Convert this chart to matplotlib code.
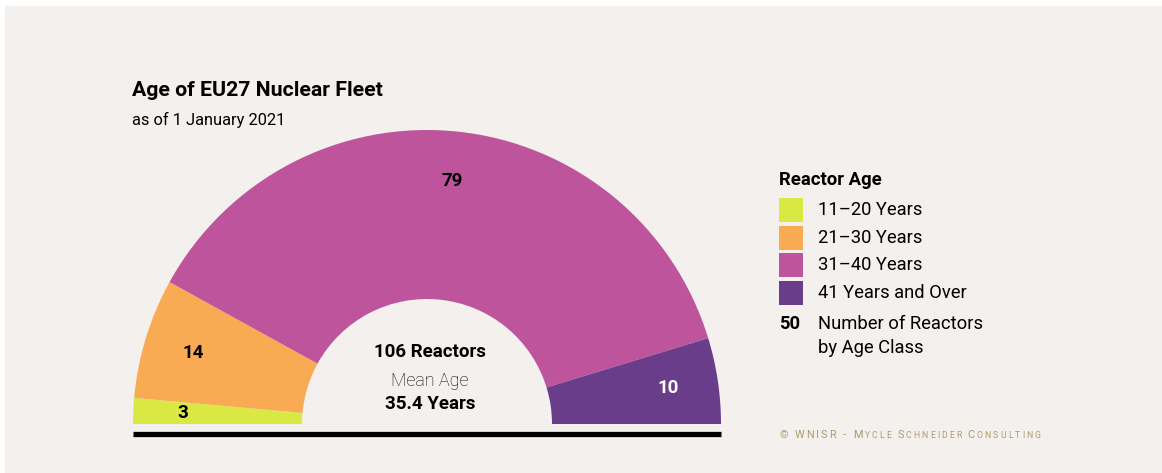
import matplotlib.pyplot as plt
from matplotlib.patches import Rectangle
import numpy as np

plt.rcParams['font.family'] = ['Roboto', 'DejaVu Sans']

# data
age_classes = ['11\u201320 Years', '21\u201330 Years', '31\u201340 Years', '41 Years and Over']
reactors = [3, 14, 79, 10]
colors = ['#d9e843', '#f8ab52', '#be559c', '#6a3d8b']
label_colors = ['black', 'black', 'black', 'white']
mean_age = 35.4

W, H = 1162, 473
BG = '#f3f0ed'

fig = plt.figure(figsize=(W / 100, H / 100), dpi=100)
fig.patch.set_facecolor('white')
fig.add_artist(Rectangle((5 / W, 0), 1, 1 - 6 / H, transform=fig.transFigure,
                         facecolor=BG, edgecolor='none', zorder=-10))


def fx(x):
    return x / W


def fy(y):
    return 1 - y / H


# half donut: center at (427, 424) px, radius 294 px
cx, cy, r = 427, 424, 294
ax = fig.add_axes([fx(cx - r), fy(cy), 2 * r / W, r / H])
ax.set_facecolor('none')
total = sum(reactors)
wedges, _ = ax.pie(reactors + [total], colors=colors + ['none'], startangle=180,
                   counterclock=False, radius=1,
                   wedgeprops=dict(width=1 - 125 / 294, linewidth=0))
wedges[-1].set_visible(False)
ax.set_xlim(-1, 1)
ax.set_ylim(0, 1)
ax.set_aspect('auto')
ax.axis('off')

for w, v, c in zip(wedges[:-1], reactors, label_colors):
    ang = np.deg2rad((w.theta1 + w.theta2) / 2)
    ax.text(0.83 * np.cos(ang), 0.83 * np.sin(ang), str(v), ha='center', va='center',
            fontsize=13.5, fontweight='bold', color=c)

# baseline bar
ax.plot([-1, 1], [-0.034, -0.034], color='black', lw=3.8, solid_capstyle='butt', clip_on=False)

# centre text
ax.text(0.01, 0.245, f'{total} Reactors', ha='center', va='center', fontsize=13.5, fontweight='bold')
ax.text(0.01, 0.147, 'Mean Age', ha='center', va='center', fontsize=13, fontweight='light', color='black')
ax.text(0.01, 0.068, f'{mean_age} Years', ha='center', va='center', fontsize=13.5, fontweight='bold')

# titles
fig.text(fx(132), fy(90), 'Age of EU27 Nuclear Fleet', fontsize=15.3, fontweight='bold', va='center')
fig.text(fx(132), fy(120), 'as of 1 January 2021', fontsize=11.8, va='center')

# legend
fig.text(fx(779), fy(180), 'Reactor Age', fontsize=13.3, fontweight='bold', va='center')
for i, (lab, col) in enumerate(zip(age_classes, colors)):
    yc = 210 + i * 27.7
    fig.add_artist(Rectangle((fx(779), fy(yc + 12)), 24 / W, 24 / H, transform=fig.transFigure,
                             facecolor=col, edgecolor='none'))
    fig.text(fx(818), fy(yc), lab, fontsize=13.2, va='center')
fig.text(fx(779), fy(324), '50', fontsize=13.2, fontweight='bold', va='center')
fig.text(fx(818), fy(324), 'Number of Reactors', fontsize=13.2, va='center')
fig.text(fx(818), fy(348), 'by Age Class', fontsize=13.2, va='center')

# copyright in small caps with wide tracking
gold = '#ab9c6c'
parts = [('\u00a9 WNISR - M', 7.8), ('YCLE ', 6.2), ('S', 7.8), ('CHNEIDER ', 6.2), ('C', 7.8), ('ONSULTING', 6.2)]
chars = [(ch, sz) for txt, sz in parts for ch in txt]
prev = fig.text(fx(779), fy(438), chars[0][0], fontsize=chars[0][1], color=gold, va='baseline')
for ch, sz in chars[1:]:
    prev = fig.add_artist(plt.Annotation(ch, xy=(1, 0), xycoords=prev, xytext=(1.5, 0),
                                         textcoords='offset points', fontsize=sz, color=gold,
                                         va='bottom'))

fig.savefig('out.png', dpi=100, facecolor=fig.get_facecolor())
